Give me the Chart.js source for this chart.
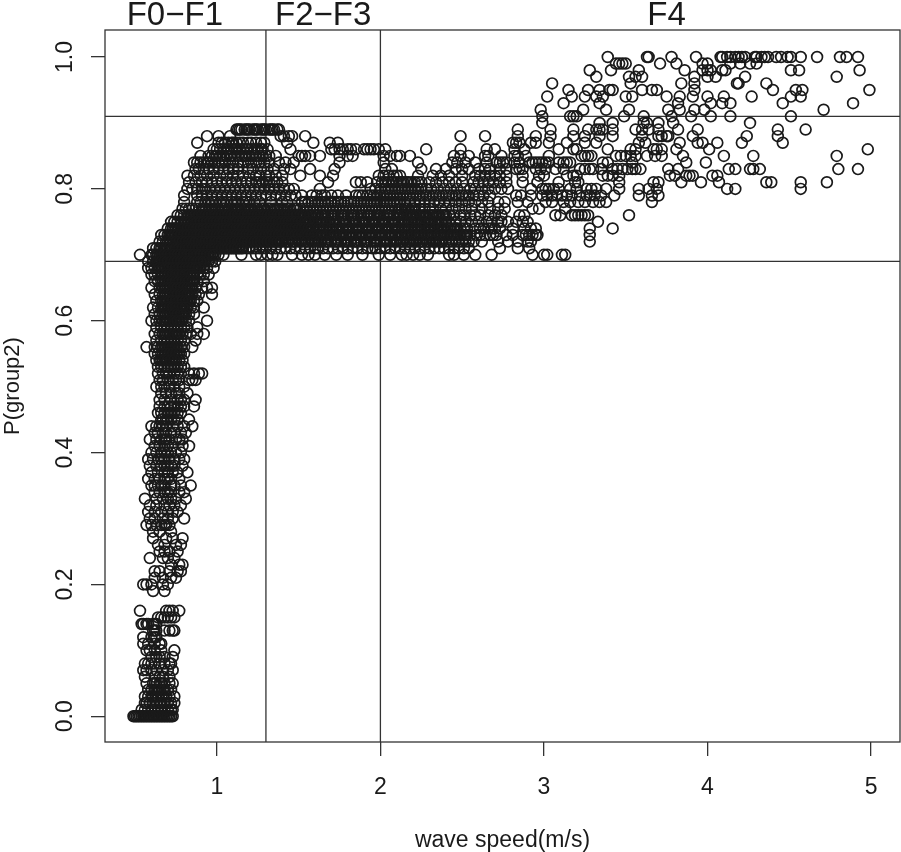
<!DOCTYPE html>
<html>
<head>
<meta charset="utf-8">
<title>P(group2) vs wave speed</title>
<script src="https://cdn.jsdelivr.net/npm/chart.js@4/dist/chart.umd.min.js"></script>
<style>
	html, body { margin: 0; padding: 0; background: #fff; }
	canvas { display: block; }
</style>
</head>
<body>
<canvas id="scatter_chart" width="901" height="852"></canvas>
<script>
// wave speed readings, one list per P(group2) level (values step by 0.01 in the plot)
const p100 = [3.39,3.63,3.64,3.78,3.93,4.08,4.09,4.12,4.14,4.17,4.19,4.21,4.23,4.29,4.30,4.33,4.35,4.37,4.42,4.45,4.49,4.51,4.57,4.67,4.81,4.85,4.92]
const p099 = [3.44,3.46,3.48,3.50,3.71,3.81,3.97,4.00,4.14,4.20,4.26,4.30]
const p098 = [3.28,3.41,3.58,3.86,3.97,4.00,4.02,4.09,4.11,4.51,4.56,4.93]
const p097 = [3.32,3.52,3.56,3.60,3.92,4.00,4.05,4.23,4.79]
const p096 = [3.05,3.53,3.84,3.92,4.18,4.19,4.36]
const p095 = [3.15,3.27,3.34,3.40,3.42,3.60,3.66,3.69,3.92,4.40,4.54,4.58,4.99]
const p094 = [3.02,3.17,3.25,3.32,3.36,3.50,3.54,3.75,3.83,3.91,4.00,4.10,4.27,4.51,4.57]
const p093 = [3.12,3.34,3.82,4.02,4.09,4.14,4.46,4.89]
const p092 = [2.98,3.24,3.38,3.52,3.76,3.83,3.92,3.98,4.71]
const p091 = [2.99,3.16,3.18,3.20,3.49,3.61,3.78,3.90,4.02,4.14,4.51]
const p090 = [2.99,3.34,3.42,3.61,3.63,3.70,3.79,4.26]
const p089 = [1.12,1.13,1.14,1.15,1.17,1.18,1.19,1.20,1.22,1.23,1.24,1.25,1.27,1.28,1.29,1.30,1.32,1.33,1.34,1.35,1.37,1.38,2.84,3.04,3.18,3.27,3.32,3.34,3.36,3.42,3.56,3.60,3.64,3.70,3.82,3.94,4.43,4.60]
const p088 = [0.94,1.01,1.08,1.39,1.41,1.44,1.46,1.54,2.49,2.64,2.84,2.95,3.04,3.18,3.25,3.34,3.42,3.60,3.70,3.72,3.75,3.76,3.91,4.24,4.43]
const p087 = [0.88,1.01,1.03,1.05,1.07,1.09,1.10,1.12,1.14,1.16,1.19,1.21,1.24,1.27,1.29,1.43,1.59,1.69,1.74,2.81,2.83,2.85,2.92,2.95,3.03,3.14,3.25,3.32,3.58,3.62,3.83,3.94,3.97,4.06,4.21,4.46]
const p086 = [0.98,1.00,1.02,1.04,1.06,1.07,1.09,1.11,1.12,1.14,1.16,1.18,1.19,1.21,1.23,1.25,1.27,1.28,1.31,1.45,1.70,1.72,1.75,1.77,1.80,1.82,1.85,1.90,1.92,1.94,1.96,1.99,2.03,2.28,2.49,2.65,2.70,2.82,2.88,3.09,3.18,3.20,3.39,3.53,3.56,3.67,3.69,3.72,3.81,4.01,4.98]
const p085 = [0.90,0.95,0.97,0.99,1.00,1.02,1.04,1.06,1.08,1.09,1.11,1.13,1.15,1.17,1.18,1.20,1.22,1.24,1.26,1.28,1.30,1.32,1.36,1.50,1.52,1.54,1.57,1.63,1.75,1.80,1.83,2.02,2.06,2.10,2.12,2.18,2.45,2.49,2.54,2.64,2.66,2.74,2.82,2.84,2.89,3.03,3.23,3.25,3.27,3.29,3.44,3.47,3.50,3.53,3.56,3.63,3.68,3.72,3.85,4.10,4.28,4.79]
const p084 = [0.86,0.88,0.90,0.92,0.94,0.95,0.97,0.99,1.01,1.03,1.05,1.08,1.10,1.13,1.16,1.19,1.21,1.24,1.26,1.29,1.32,1.38,1.42,1.47,1.75,2.02,2.23,2.44,2.47,2.52,2.58,2.65,2.71,2.73,2.75,2.77,2.82,2.85,2.91,2.93,2.95,2.97,2.99,3.01,3.03,3.09,3.12,3.14,3.16,3.36,3.39,3.54,3.87,3.99]
const p083 = [0.87,0.89,0.92,0.95,0.98,1.01,1.04,1.07,1.10,1.13,1.19,1.22,1.27,1.31,1.35,1.41,1.45,1.57,1.72,2.03,2.07,2.25,2.34,2.40,2.46,2.50,2.54,2.60,2.64,2.67,2.73,2.77,2.83,2.85,2.87,2.95,2.98,3.01,3.07,3.12,3.22,3.25,3.28,3.30,3.35,3.42,3.45,3.48,3.51,3.54,3.56,3.59,3.76,3.82,4.13,4.17,4.26,4.28,4.32,4.80,4.92]
const p082 = [0.82,0.86,0.90,0.94,0.98,1.02,1.06,1.10,1.13,1.16,1.20,1.24,1.26,1.30,1.32,1.36,1.40,1.51,1.63,1.71,1.99,2.02,2.05,2.08,2.10,2.12,2.23,2.32,2.37,2.42,2.50,2.58,2.61,2.64,2.67,2.70,2.73,2.77,2.87,2.97,3.00,3.14,3.18,3.20,3.36,3.39,3.42,3.46,3.77,3.80,3.87,3.89,3.91,4.03,4.06]
const p081 = [0.83,0.87,0.91,0.94,0.97,1.00,1.03,1.06,1.09,1.12,1.15,1.18,1.21,1.24,1.26,1.28,1.30,1.32,1.35,1.37,1.40,1.68,1.85,1.88,1.92,1.98,2.01,2.03,2.05,2.07,2.08,2.10,2.12,2.13,2.14,2.16,2.17,2.19,2.21,2.23,2.25,2.30,2.34,2.38,2.42,2.46,2.50,2.57,2.60,2.63,2.66,2.69,2.73,2.77,2.87,2.96,3.09,3.19,3.21,3.46,3.67,3.70,3.84,3.96,4.07,4.36,4.39,4.57,4.73]
const p080 = [0.82,0.85,0.88,0.91,0.93,0.96,0.99,1.02,1.05,1.08,1.11,1.14,1.17,1.20,1.23,1.26,1.29,1.32,1.35,1.38,1.41,1.44,1.47,1.63,1.94,1.97,2.00,2.03,2.05,2.07,2.09,2.11,2.13,2.15,2.17,2.19,2.21,2.23,2.25,2.28,2.31,2.35,2.39,2.43,2.47,2.51,2.55,2.58,2.62,2.66,2.70,2.74,2.78,2.92,2.99,3.01,3.03,3.06,3.09,3.16,3.20,3.26,3.29,3.32,3.38,3.46,3.58,3.64,3.69,4.12,4.17,4.57]
const p079 = [0.80,0.88,0.91,0.94,0.97,1.00,1.03,1.06,1.09,1.12,1.15,1.18,1.21,1.24,1.27,1.30,1.33,1.36,1.39,1.42,1.45,1.48,1.52,1.58,1.61,1.64,1.66,1.70,1.74,1.79,1.85,1.87,1.89,1.92,1.94,1.96,1.98,2.00,2.02,2.04,2.06,2.08,2.10,2.12,2.14,2.16,2.18,2.20,2.22,2.24,2.26,2.28,2.30,2.32,2.34,2.36,2.38,2.40,2.42,2.44,2.46,2.48,2.50,2.52,2.54,2.57,2.60,2.63,2.67,2.83,2.86,2.92,2.99,3.02,3.05,3.08,3.11,3.14,3.17,3.22,3.26,3.28,3.31,3.35,3.43,3.58,3.66,3.70]
const p078 = [0.80,0.88,0.90,0.93,0.95,0.97,0.99,1.02,1.04,1.06,1.09,1.11,1.13,1.16,1.18,1.20,1.23,1.26,1.33,1.40,1.43,1.52,1.54,1.56,1.58,1.60,1.62,1.64,1.66,1.68,1.70,1.72,1.74,1.76,1.78,1.80,1.82,1.84,1.86,1.88,1.90,1.92,1.94,1.96,1.98,2.00,2.02,2.04,2.06,2.08,2.10,2.12,2.15,2.18,2.21,2.24,2.27,2.30,2.33,2.36,2.39,2.42,2.46,2.50,2.54,2.58,2.62,2.66,2.72,2.76,2.84,2.90,3.01,3.05,3.12,3.16,3.21,3.25,3.30,3.34,3.38,3.66]
const p077 = [0.79,0.81,0.83,0.85,0.87,0.89,0.91,0.93,0.95,0.97,0.99,1.01,1.03,1.05,1.07,1.09,1.11,1.13,1.15,1.17,1.19,1.21,1.23,1.25,1.27,1.29,1.31,1.33,1.35,1.37,1.39,1.41,1.43,1.45,1.47,1.49,1.51,1.53,1.55,1.57,1.59,1.61,1.63,1.65,1.67,1.69,1.71,1.73,1.75,1.77,1.79,1.81,1.83,1.85,1.87,1.89,1.91,1.93,1.95,1.97,1.99,2.01,2.03,2.05,2.07,2.09,2.11,2.13,2.15,2.17,2.19,2.21,2.24,2.27,2.30,2.32,2.37,2.40,2.44,2.48,2.52,2.56,2.62,2.67,2.72,2.76,2.93,2.97,3.13]
const p076 = [0.76,0.78,0.80,0.82,0.84,0.86,0.88,0.90,0.92,0.94,0.96,0.98,1.00,1.02,1.04,1.06,1.08,1.10,1.12,1.14,1.16,1.18,1.20,1.22,1.24,1.26,1.28,1.30,1.32,1.34,1.36,1.38,1.40,1.42,1.44,1.46,1.48,1.50,1.52,1.54,1.56,1.58,1.60,1.62,1.64,1.66,1.68,1.70,1.72,1.74,1.76,1.78,1.80,1.82,1.84,1.86,1.88,1.90,1.92,1.94,1.96,1.98,2.00,2.02,2.04,2.06,2.08,2.10,2.12,2.14,2.16,2.18,2.20,2.22,2.24,2.26,2.28,2.30,2.32,2.34,2.36,2.38,2.40,2.42,2.45,2.49,2.51,2.55,2.58,2.61,2.66,2.70,2.74,2.85,2.88,3.07,3.10,3.17,3.19,3.21,3.23,3.25,3.27,3.52]
const p075 = [0.72,0.74,0.76,0.78,0.80,0.81,0.83,0.85,0.87,0.89,0.91,0.93,0.95,0.97,0.99,1.01,1.03,1.05,1.07,1.09,1.11,1.13,1.15,1.17,1.19,1.21,1.23,1.25,1.27,1.29,1.31,1.33,1.35,1.37,1.39,1.41,1.43,1.45,1.47,1.49,1.51,1.53,1.55,1.57,1.59,1.61,1.63,1.65,1.67,1.69,1.71,1.73,1.75,1.77,1.79,1.81,1.83,1.85,1.87,1.89,1.91,1.93,1.95,1.97,1.99,2.01,2.03,2.05,2.07,2.09,2.11,2.13,2.15,2.17,2.19,2.21,2.23,2.25,2.27,2.29,2.31,2.33,2.35,2.37,2.40,2.42,2.46,2.49,2.52,2.56,2.60,2.65,2.68,2.72,2.74,2.78,2.83,2.87,2.90,3.33]
const p074 = [0.70,0.72,0.73,0.75,0.77,0.79,0.81,0.83,0.85,0.87,0.89,0.91,0.93,0.95,0.97,0.99,1.01,1.03,1.05,1.07,1.09,1.11,1.13,1.15,1.17,1.19,1.21,1.23,1.25,1.27,1.29,1.31,1.33,1.35,1.37,1.39,1.41,1.43,1.45,1.47,1.49,1.51,1.53,1.55,1.57,1.59,1.61,1.63,1.65,1.67,1.69,1.71,1.73,1.75,1.77,1.79,1.81,1.83,1.85,1.87,1.89,1.91,1.93,1.95,1.97,1.99,2.01,2.03,2.05,2.07,2.09,2.11,2.13,2.15,2.17,2.19,2.21,2.23,2.25,2.27,2.29,2.31,2.33,2.35,2.37,2.39,2.41,2.43,2.45,2.47,2.49,2.51,2.53,2.58,2.61,2.63,2.66,2.68,2.70,2.73,2.81,2.88,2.92,2.95,3.28,3.42]
const p073 = [0.66,0.68,0.70,0.71,0.73,0.75,0.77,0.79,0.81,0.83,0.85,0.87,0.89,0.91,0.93,0.95,0.97,0.99,1.01,1.03,1.05,1.07,1.09,1.11,1.13,1.15,1.17,1.19,1.21,1.23,1.25,1.27,1.29,1.31,1.33,1.35,1.37,1.39,1.41,1.43,1.45,1.47,1.49,1.51,1.53,1.55,1.57,1.59,1.61,1.63,1.65,1.67,1.69,1.71,1.73,1.75,1.77,1.79,1.81,1.83,1.85,1.87,1.89,1.91,1.93,1.95,1.97,1.99,2.01,2.03,2.05,2.07,2.09,2.11,2.13,2.15,2.17,2.19,2.21,2.23,2.25,2.27,2.29,2.31,2.33,2.35,2.37,2.39,2.41,2.43,2.45,2.47,2.49,2.51,2.53,2.55,2.59,2.61,2.64,2.67,2.69,2.71,2.77,2.81,2.87,2.89,2.91,2.93,2.95,2.96,3.28]
const p072 = [0.65,0.67,0.69,0.70,0.72,0.74,0.76,0.78,0.80,0.82,0.84,0.86,0.88,0.90,0.92,0.94,0.96,0.98,1.00,1.02,1.04,1.06,1.08,1.10,1.12,1.14,1.16,1.18,1.20,1.22,1.24,1.26,1.28,1.30,1.32,1.34,1.36,1.38,1.40,1.42,1.44,1.46,1.48,1.50,1.52,1.54,1.56,1.58,1.60,1.62,1.64,1.66,1.68,1.70,1.72,1.74,1.76,1.78,1.80,1.82,1.84,1.86,1.88,1.90,1.92,1.94,1.96,1.98,2.00,2.02,2.04,2.06,2.08,2.10,2.12,2.14,2.16,2.18,2.20,2.22,2.24,2.26,2.28,2.30,2.32,2.34,2.36,2.38,2.40,2.42,2.44,2.46,2.48,2.50,2.52,2.54,2.57,2.62,2.72,2.78,2.84,2.90,2.92,3.28]
const p071 = [0.61,0.63,0.65,0.66,0.68,0.70,0.72,0.74,0.76,0.78,0.80,0.82,0.84,0.86,0.88,0.90,0.92,0.94,0.96,0.98,1.00,1.02,1.04,1.06,1.08,1.10,1.12,1.14,1.16,1.18,1.20,1.22,1.24,1.26,1.28,1.30,1.33,1.36,1.39,1.42,1.45,1.48,1.51,1.54,1.57,1.60,1.62,1.65,1.68,1.71,1.74,1.77,1.80,1.83,1.86,1.89,1.92,1.95,1.97,2.00,2.03,2.06,2.09,2.12,2.15,2.18,2.21,2.24,2.27,2.30,2.33,2.36,2.39,2.42,2.45,2.48,2.51,2.54,2.73,2.84,2.91]
const p070 = [0.53,0.60,0.61,0.63,0.65,0.67,0.69,0.71,0.73,0.75,0.77,0.79,0.81,0.83,0.85,0.87,0.89,0.91,0.93,0.95,0.97,0.99,1.01,1.04,1.15,1.24,1.27,1.31,1.34,1.37,1.46,1.52,1.56,1.60,1.66,1.73,1.80,1.89,1.99,2.06,2.13,2.16,2.20,2.24,2.29,2.42,2.45,2.51,2.58,2.68,2.93,3.00,3.02,3.11,3.13]
const p069 = [0.58,0.61,0.63,0.65,0.67,0.69,0.71,0.73,0.75,0.77,0.79,0.81,0.83,0.85,0.87,0.89,0.91,0.93,0.95,0.97,0.99]
const p068 = [0.58,0.60,0.62,0.64,0.66,0.68,0.70,0.72,0.74,0.76,0.78,0.80,0.82,0.84,0.86,0.88,0.90,0.92,0.94,0.98]
const p067 = [0.60,0.62,0.64,0.66,0.68,0.70,0.72,0.74,0.76,0.78,0.80,0.82,0.84,0.86,0.88,0.90,0.92,0.95]
const p066 = [0.62,0.64,0.66,0.68,0.70,0.72,0.74,0.76,0.78,0.80,0.82,0.84,0.86,0.88,0.92]
const p065 = [0.60,0.65,0.67,0.69,0.71,0.73,0.75,0.77,0.79,0.81,0.83,0.85,0.87,0.91,0.94,0.97]
const p064 = [0.62,0.65,0.67,0.69,0.71,0.73,0.75,0.77,0.79,0.81,0.83,0.85,0.87,0.89,0.97]
const p063 = [0.63,0.66,0.68,0.70,0.72,0.74,0.76,0.78,0.80,0.82,0.84,0.86,0.88]
const p062 = [0.61,0.64,0.66,0.68,0.70,0.72,0.74,0.76,0.78,0.80,0.82,0.84,0.86,0.92]
const p061 = [0.62,0.65,0.67,0.69,0.71,0.73,0.75,0.77,0.79,0.81,0.83,0.86]
const p060 = [0.60,0.63,0.65,0.67,0.69,0.71,0.73,0.75,0.77,0.79,0.81,0.83,0.94]
const p059 = [0.63,0.66,0.68,0.70,0.72,0.74,0.76,0.78,0.80,0.82,0.88]
const p058 = [0.62,0.65,0.67,0.69,0.71,0.73,0.75,0.77,0.79,0.81,0.84,0.88,0.92]
const p057 = [0.63,0.66,0.68,0.70,0.72,0.74,0.76,0.78,0.80,0.87]
const p056 = [0.57,0.62,0.64,0.66,0.68,0.70,0.72,0.74,0.76,0.78,0.80,0.85]
const p055 = [0.62,0.64,0.66,0.68,0.70,0.72,0.74,0.76,0.78,0.80]
const p054 = [0.63,0.65,0.67,0.69,0.71,0.73,0.75,0.77,0.79]
const p053 = [0.64,0.66,0.68,0.70,0.72,0.74,0.76,0.78,0.80]
const p052 = [0.64,0.67,0.69,0.71,0.74,0.76,0.78,0.83,0.86,0.89,0.91]
const p051 = [0.65,0.67,0.70,0.73,0.75,0.77,0.83,0.85,0.87]
const p050 = [0.63,0.66,0.68,0.71,0.74,0.77,0.80]
const p049 = [0.66,0.69,0.72,0.75,0.77,0.82]
const p048 = [0.65,0.68,0.72,0.76,0.78,0.80,0.87]
const p047 = [0.65,0.68,0.70,0.72,0.74,0.76,0.78,0.80,0.86]
const p046 = [0.64,0.66,0.68,0.70,0.72,0.74,0.76,0.78]
const p045 = [0.66,0.67,0.69,0.70,0.72,0.74,0.76,0.83]
const p044 = [0.60,0.63,0.65,0.67,0.69,0.73,0.76,0.80,0.85]
const p043 = [0.62,0.64,0.67,0.69,0.72,0.74,0.78,0.81]
const p042 = [0.59,0.63,0.66,0.68,0.69,0.71,0.75,0.77,0.79]
const p041 = [0.62,0.65,0.68,0.70,0.73,0.79,0.83]
const p040 = [0.60,0.63,0.66,0.68,0.70,0.72,0.75,0.78]
const p039 = [0.58,0.61,0.64,0.66,0.68,0.71,0.74,0.77,0.80]
const p038 = [0.59,0.63,0.66,0.68,0.70,0.72,0.74,0.79]
const p037 = [0.60,0.64,0.68,0.70,0.73,0.76,0.82]
const p036 = [0.58,0.62,0.65,0.68,0.70,0.72,0.77]
const p035 = [0.60,0.62,0.64,0.66,0.68,0.72,0.74,0.78,0.84]
const p034 = [0.62,0.65,0.68,0.70,0.72,0.77,0.80]
const p033 = [0.56,0.63,0.67,0.70,0.72,0.75,0.81]
const p032 = [0.59,0.63,0.68,0.71,0.74,0.78]
const p031 = [0.58,0.62,0.66,0.70,0.73,0.76]
const p030 = [0.59,0.62,0.67,0.70,0.73,0.80]
const p029 = [0.57,0.60,0.63,0.66,0.69,0.68,0.71]
const p028 = [0.61,0.65,0.72]
const p027 = [0.61,0.69,0.73,0.79]
const p026 = [0.64,0.68,0.75,0.78]
const p025 = [0.65,0.68,0.71,0.76]
const p024 = [0.59,0.67,0.70,0.74]
const p023 = [0.72,0.77,0.79]
const p022 = [0.62,0.65,0.71,0.76,0.78]
const p021 = [0.62,0.67,0.72,0.75]
const p020 = [0.55,0.57,0.60,0.67,0.70]
const p019 = [0.61,0.68]
const p016 = [0.53,0.69,0.71,0.73,0.77]
const p015 = [0.64,0.66,0.68,0.70,0.72,0.74]
const p014 = [0.54,0.55,0.57,0.58,0.61,0.62,0.63]
const p013 = [0.61,0.62,0.63,0.68,0.71,0.73,0.74]
const p012 = [0.55,0.60,0.62,0.63]
const p011 = [0.55,0.58,0.62,0.65,0.66]
const p010 = [0.57,0.59,0.62,0.66,0.74]
const p009 = [0.60,0.63,0.65,0.68,0.73]
const p008 = [0.56,0.58,0.60,0.62,0.65,0.68,0.71,0.72]
const p007 = [0.55,0.57,0.60,0.63,0.67,0.70,0.73]
const p006 = [0.56,0.62,0.65,0.67,0.71]
const p005 = [0.57,0.61,0.62,0.63,0.65,0.66,0.68,0.71,0.73]
const p004 = [0.58,0.60,0.62,0.63,0.64,0.65,0.67,0.68,0.70,0.72]
const p003 = [0.56,0.58,0.60,0.61,0.63,0.64,0.66,0.67,0.69,0.71,0.74]
const p002 = [0.56,0.57,0.59,0.61,0.63,0.65,0.66,0.68,0.70,0.72,0.74]
const p001 = [0.54,0.56,0.58,0.60,0.62,0.64,0.66,0.68,0.70,0.72,0.73]
const p000 = [0.49,0.50,0.51,0.52,0.53,0.54,0.55,0.56,0.57,0.58,0.59,0.60,0.61,0.62,0.63,0.64,0.65,0.66,0.67,0.68,0.69,0.70,0.71,0.72,0.73]

// extra readings where the circles overlap into a solid mass
const dense077 = [0.92,0.96,1.00,1.04,1.08,1.12,1.16,1.20,1.24,1.28,1.32,1.36,1.40,1.44,1.48,2.12,2.16,2.20]
const dense076 = [0.83,0.85,0.87,0.89,0.91,0.93,0.95,0.97,0.99,1.01,1.03,1.05,1.07,1.09,1.11,1.13,1.15,1.17,1.19,1.21,1.23,1.25,1.27,1.29,1.31,1.33,1.35,1.37,1.39,1.41,1.43,1.45,1.47,1.49,1.51,1.53,1.57,1.61,1.65,1.71,1.77,1.83,1.93,1.99,2.05,2.11,2.15,2.19,2.23,2.27,2.31,2.35,2.39]
const dense075 = [0.82,0.84,0.86,0.88,0.90,0.92,0.94,0.96,0.98,1.00,1.02,1.04,1.06,1.08,1.10,1.12,1.14,1.16,1.18,1.20,1.22,1.24,1.26,1.28,1.30,1.32,1.34,1.36,1.38,1.40,1.42,1.44,1.46,1.48,1.50,1.52,1.54,1.56,1.60,1.64,1.68,1.72,1.78,1.84,1.90,1.96,2.02,2.08,2.14,2.18,2.22,2.26,2.30,2.34,2.38]
const dense074 = [0.74,0.76,0.78,0.80,0.82,0.84,0.86,0.88,0.90,0.92,0.94,0.96,0.98,1.00,1.02,1.04,1.06,1.08,1.10,1.12,1.14,1.16,1.18,1.20,1.22,1.24,1.26,1.28,1.30,1.32,1.34,1.36,1.38,1.40,1.42,1.44,1.46,1.48,1.50,1.52,1.54,1.56,1.58,1.62,1.66,1.70,1.74,1.80,1.86,1.92,1.98,2.04,2.10,2.14,2.18,2.22,2.26,2.30,2.34,2.38,2.42,2.46]
const dense073 = [0.72,0.74,0.76,0.78,0.80,0.82,0.84,0.86,0.88,0.90,0.92,0.94,0.96,0.98,1.00,1.02,1.04,1.06,1.08,1.10,1.12,1.14,1.16,1.18,1.20,1.22,1.24,1.26,1.28,1.30,1.32,1.34,1.36,1.38,1.40,1.42,1.44,1.46,1.48,1.50,1.52,1.54,1.56,1.58,1.60,1.64,1.68,1.72,1.76,1.82,1.88,1.94,2.00,2.06,2.12,2.16,2.20,2.24,2.28,2.32,2.36,2.40,2.44,2.48,2.52]
const dense072 = [0.71,0.73,0.75,0.77,0.79,0.81,0.83,0.85,0.87,0.89,0.91,0.93,0.95,0.97,0.99,1.01,1.03,1.05,1.07,1.09,1.11,1.13,1.15,1.17,1.19,1.21,1.23,1.25,1.27,1.29,1.31,1.33,1.35,1.37,1.39,1.43,1.47,1.51,1.55,1.59,1.63,1.67,1.73,1.79,1.85,1.91,1.97,2.03,2.09,2.13,2.17,2.21,2.25,2.29,2.33,2.37]
const dense071 = [0.69,0.71,0.73,0.75,0.77,0.79,0.81,0.83,0.85,0.87,0.89,0.91,0.93,0.95,0.97,0.99,1.01,1.03,1.05,1.07,1.09,1.11,1.13,1.15]
const dense070 = [0.64,0.66,0.68,0.70,0.72,0.74,0.76,0.78,0.80,0.82,0.84,0.86,0.88,0.90,0.92,0.94,0.96,0.98]
const dense069 = [0.64,0.66,0.68,0.70,0.72,0.74,0.76,0.78,0.80,0.82,0.84,0.86,0.88,0.90,0.92]
const dense068 = [0.65,0.67,0.69,0.71,0.73,0.75,0.77,0.79,0.81,0.83,0.85,0.87,0.89]
const dense067 = [0.67,0.69,0.71,0.73,0.75,0.77,0.79,0.81,0.83,0.85]
const dense066 = [0.67,0.69,0.71,0.73,0.75,0.77,0.79,0.81,0.83,0.85]
const dense065 = [0.68,0.70,0.72,0.74,0.76,0.78,0.80,0.82,0.84]
const dense064 = [0.68,0.70,0.72,0.74,0.76,0.78,0.80,0.82,0.84]
const dense063 = [0.67,0.69,0.71,0.73,0.75,0.77,0.79,0.81,0.83]
const dense062 = [0.67,0.69,0.71,0.73,0.75,0.77,0.79,0.81]
const dense061 = [0.68,0.70,0.72,0.74,0.76,0.78,0.80]
const dense060 = [0.68,0.70,0.72,0.74,0.76,0.78]
const dense058 = [0.68,0.70,0.72,0.74,0.76]
const dense056 = [0.67,0.69,0.71,0.73,0.75]
const dense055 = [0.67,0.69,0.71,0.73,0.75,0.77]
const dense054 = [0.66,0.68,0.70,0.72,0.74]

const levels = [
	[1.00,p100],[0.99,p099],[0.98,p098],[0.97,p097],[0.96,p096],[0.95,p095],[0.94,p094],[0.93,p093],[0.92,p092],[0.91,p091],
	[0.90,p090],[0.89,p089],[0.88,p088],[0.87,p087],[0.86,p086],[0.85,p085],[0.84,p084],[0.83,p083],[0.82,p082],[0.81,p081],
	[0.80,p080],[0.79,p079],[0.78,p078],[0.77,p077],[0.76,p076],[0.75,p075],[0.74,p074],[0.73,p073],[0.72,p072],[0.71,p071],
	[0.70,p070],[0.69,p069],[0.68,p068],[0.67,p067],[0.66,p066],[0.65,p065],[0.64,p064],[0.63,p063],[0.62,p062],[0.61,p061],
	[0.60,p060],[0.59,p059],[0.58,p058],[0.57,p057],[0.56,p056],[0.55,p055],[0.54,p054],[0.53,p053],[0.52,p052],[0.51,p051],
	[0.50,p050],[0.49,p049],[0.48,p048],[0.47,p047],[0.46,p046],[0.45,p045],[0.44,p044],[0.43,p043],[0.42,p042],[0.41,p041],
	[0.40,p040],[0.39,p039],[0.38,p038],[0.37,p037],[0.36,p036],[0.35,p035],[0.34,p034],[0.33,p033],[0.32,p032],[0.31,p031],
	[0.30,p030],[0.29,p029],[0.28,p028],[0.27,p027],[0.26,p026],[0.25,p025],[0.24,p024],[0.23,p023],[0.22,p022],[0.21,p021],
	[0.20,p020],[0.19,p019],[0.16,p016],[0.15,p015],[0.14,p014],[0.13,p013],[0.12,p012],[0.11,p011],
	[0.10,p010],[0.09,p009],[0.08,p008],[0.07,p007],[0.06,p006],[0.05,p005],[0.04,p004],[0.03,p003],[0.02,p002],[0.01,p001],[0.00,p000],
	[0.77,dense077],[0.76,dense076],[0.75,dense075],[0.74,dense074],[0.73,dense073],[0.72,dense072],[0.71,dense071],[0.70,dense070],
	[0.69,dense069],[0.68,dense068],[0.67,dense067],[0.66,dense066],[0.65,dense065],[0.64,dense064],[0.63,dense063],[0.62,dense062],
	[0.61,dense061],[0.60,dense060],[0.58,dense058],[0.56,dense056],[0.55,dense055],[0.54,dense054],
]

const xTicks = [1, 2, 3, 4, 5]
const yTicks = [0, 0.2, 0.4, 0.6, 0.8, 1]
const speedCuts = [1.3, 2]
const probCuts = [0.69, 0.91]
const stageLabels = ['F0\u2212F1', 'F2\u2212F3', 'F4']
const stageCentres = [0.743, 1.65, 3.75]

const INK = '#1a1a1a'
const LINE = '#333333'
const FONT = '"Liberation Sans", Arial, sans-serif'
const X_MIN = 0.316, X_MAX = 5.177, Y_MIN = -0.039, Y_MAX = 1.041

let points = []
levels.forEach(function (row) {
	row[1].forEach(function (speed) {
		points.push({ x: speed, y: row[0] })
	})
})

let datasets = [{
	data: points,
	showLine: false,
	pointRadius: 5.4,
	pointHoverRadius: 5.4,
	pointBorderWidth: 1.7,
	pointBorderColor: INK,
	pointBackgroundColor: 'rgba(0,0,0,0)',
}]

speedCuts.forEach(function (v) {
	datasets.push({
		data: [{ x: v, y: Y_MIN }, { x: v, y: Y_MAX }],
		showLine: true, pointRadius: 0, borderColor: LINE, borderWidth: 1.3,
	})
})
probCuts.forEach(function (v) {
	datasets.push({
		data: [{ x: X_MIN, y: v }, { x: X_MAX, y: v }],
		showLine: true, pointRadius: 0, borderColor: LINE, borderWidth: 1.3,
	})
})

// box round the plot and the stage labels above it
const framePlugin = {
	id: 'frame',
	afterDraw: function (chart) {
		const ctx = chart.ctx, area = chart.chartArea, sx = chart.scales.x
		ctx.save()
		ctx.strokeStyle = LINE
		ctx.lineWidth = 1.3
		ctx.strokeRect(area.left, area.top, area.right - area.left, area.bottom - area.top)
		ctx.fillStyle = INK
		ctx.font = '33px ' + FONT
		ctx.textAlign = 'center'
		ctx.textBaseline = 'alphabetic'
		stageLabels.forEach(function (label, i) {
			ctx.fillText(label, sx.getPixelForValue(stageCentres[i]), 25)
		})
		ctx.restore()
	},
}

new Chart(document.getElementById('scatter_chart').getContext('2d'), {
	type: 'scatter',
	data: { datasets: datasets },
	plugins: [framePlugin],
	options: {
		responsive: false,
		animation: false,
		events: [],
		layout: { autoPadding: false, padding: { top: 30, right: 1, left: 0, bottom: 0 } },
		plugins: { legend: { display: false }, tooltip: { enabled: false } },
		scales: {
			x: {
				type: 'linear',
				min: X_MIN,
				max: X_MAX,
				afterBuildTicks: function (scale) {
					scale.ticks = xTicks.map(function (v) { return { value: v } })
				},
				afterFit: function (scale) {
					scale.height = 110
					scale.paddingLeft = 0
					scale.paddingRight = 0
				},
				grid: { drawOnChartArea: false, drawTicks: true, tickLength: 14, color: LINE, lineWidth: 1.3 },
				border: { display: false },
				ticks: {
					color: INK,
					font: { family: FONT, size: 23 },
					padding: 18,
					maxRotation: 0,
					autoSkip: false,
					callback: function (v) { return String(v) },
				},
				title: {
					display: true,
					text: 'wave speed(m/s)',
					color: INK,
					font: { family: FONT, size: 23 },
					padding: { top: 0, bottom: -2 },
				},
			},
			y: {
				type: 'linear',
				min: Y_MIN,
				max: Y_MAX,
				afterBuildTicks: function (scale) {
					scale.ticks = yTicks.map(function (v) { return { value: v } })
				},
				afterFit: function (scale) {
					scale.width = 105
					scale.paddingTop = 0
					scale.paddingBottom = 0
				},
				grid: { drawOnChartArea: false, drawTicks: true, tickLength: 14, color: LINE, lineWidth: 1.3 },
				border: { display: false },
				ticks: {
					color: INK,
					font: { family: FONT, size: 23 },
					padding: 9,
					crossAlign: 'center',
					minRotation: 90,
					maxRotation: 90,
					autoSkip: false,
					callback: function (v) { return v.toFixed(1) },
				},
				title: {
					display: true,
					text: 'P(group2)',
					color: INK,
					font: { family: FONT, size: 22 },
					padding: 0,
				},
			},
		},
	},
})
</script>
</body>
</html>
